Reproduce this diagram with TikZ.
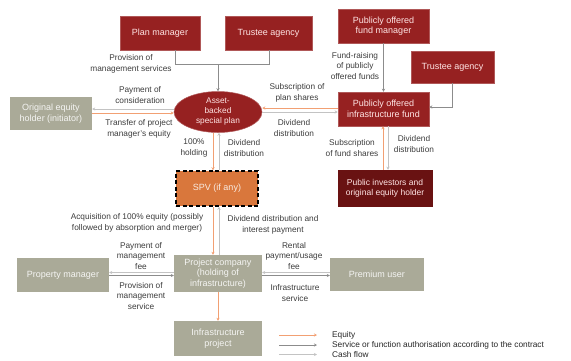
\documentclass[tikz,border=0pt]{standalone}
\usepackage{fontspec}
\setmainfont{Liberation Sans}
\usetikzlibrary{shapes.geometric,arrows.meta}
\definecolor{dred}{RGB}{150,33,33}
\definecolor{ddred}{RGB}{105,18,18}
\definecolor{gbox}{RGB}{170,170,152}
\definecolor{spvor}{RGB}{217,119,60}
\definecolor{eqc}{RGB}{242,160,115}
\definecolor{svcc}{RGB}{140,140,140}
\definecolor{cashc}{RGB}{195,195,195}
\definecolor{lbltext}{RGB}{60,60,60}
\begin{document}
\begin{tikzpicture}[x=1pt,y=-1pt,
 box/.style={rectangle, inner sep=1pt, align=center, font=\fontsize{9}{10.5}\selectfont},
 redbox/.style={box, fill=dred, draw=dred!75!white, line width=0.5pt, text=white!90!red},
 graybox/.style={box, fill=gbox, text=white!88!gbox},
 lbl/.style={align=center, font=\fontsize{8.3}{10.5}\selectfont, text=lbltext, inner sep=0pt},
 tip/.style={-{Stealth[length=3pt,width=3pt]}},
 eq/.style={tip, draw=eqc, line width=0.7pt},
 svc/.style={draw=svcc, line width=0.6pt},
 cash/.style={tip, draw=cashc, line width=0.7pt},
]
\useasboundingbox (0,0) rectangle (571,360);

% boxes
\node[redbox, minimum width=80pt, minimum height=34pt] (pm) at (160,33) {Plan manager};
\node[redbox, minimum width=87pt, minimum height=34pt] (ta1) at (268.5,33) {Trustee agency};
\node[redbox, minimum width=91pt, minimum height=34pt] (pfm) at (383.5,26) {Publicly offered\\fund manager};
\node[redbox, minimum width=83pt, minimum height=32pt] (ta2) at (452.5,67) {Trustee agency};
\node[redbox, minimum width=91pt, minimum height=34pt] (pif) at (383.5,109) {Publicly offered\\infrastructure fund};
\node[redbox, fill=ddred, draw=ddred, minimum width=94pt, minimum height=36pt, font=\fontsize{8.5}{10}\selectfont] (inv) at (385,188) {Public investors and\\original equity holder};
\node[graybox, minimum width=82pt, minimum height=33pt] (oeh) at (51,113.5) {Original equity\\holder (initiator)};
\node[ellipse, fill=dred, draw=dred!75!white, line width=0.5pt, minimum width=88pt, minimum height=41pt, inner sep=0pt, align=center, font=\fontsize{8.3}{10}\selectfont, text=white!90!red] (abs) at (218,112) {Asset-\\backed\\special plan};
\node[box, fill=spvor, draw=black, line width=1.5pt, dash pattern=on 4pt off 2.5pt, minimum width=82pt, minimum height=35pt, text=white!85!spvor] (spv) at (217,188.5) {SPV (if any)};
\node[graybox, minimum width=88pt, minimum height=37pt] (pc) at (218,273.5) {Project company\\(holding of\\infrastructure)};
\node[graybox, minimum width=94pt, minimum height=33pt] (pu) at (377,274.5) {Premium user};
\node[graybox, minimum width=92pt, minimum height=34pt] (prm) at (63,275) {Property manager};
\node[graybox, minimum width=88pt, minimum height=35pt] (ip) at (218,338.5) {Infrastructure\\project};

% connectors
\coordinate (j) at (218,64);
\draw[svc] ([xshift=15pt]pm.south) |- (j);
\draw[svc] ([xshift=0.5pt]ta1.south) |- (j);
\draw[svc,tip] (j) -- (abs.north);

\draw[cash] ([yshift=3pt]abs.west) -- ([yshift=3pt]abs.west -| oeh.east);
\draw[eq] ([yshift=-1pt]abs.west -| oeh.east) -- ([yshift=-1pt]abs.west);

\draw[eq] ([yshift=1pt]pif.west) -- ([yshift=1pt]pif.west -| abs.east);
\draw[cash] ([yshift=-3pt]pif.west -| abs.east) -- ([yshift=-3pt]pif.west);

\draw[svc,tip] (pfm.south) -- (pif.north);
\draw[svc,tip] (ta2.south) |- ([yshift=2pt]pif.east);

\draw[eq] ([xshift=-2pt]inv.north) -- ([xshift=-2pt]inv.north |- pif.south);
\draw[cash] ([xshift=3pt]inv.north |- pif.south) -- ([xshift=3pt]inv.north);

\draw[eq] ([xshift=-5pt]abs.south) -- ([xshift=-5pt]abs.south |- spv.north);
\draw[cash] ([xshift=1pt]abs.south |- spv.north) -- ([xshift=1pt]abs.south);

\draw[eq] ([xshift=-5pt]pc.north |- spv.south) -- ([xshift=-5pt]pc.north);
\draw[cash] ([xshift=1pt]pc.north) -- ([xshift=1pt]pc.north |- spv.south);

\draw[cash] ([yshift=1pt]pc.west) -- ([yshift=1pt]pc.west -| prm.east);
\draw[svc,tip] ([yshift=-2pt]pc.west -| prm.east) -- ([yshift=-2pt]pc.west);

\draw[cash] ([yshift=1pt]pc.east -| pu.west) -- ([yshift=1pt]pc.east);
\draw[svc,tip] ([yshift=-2pt]pc.east) -- ([yshift=-2pt]pc.east -| pu.west);

\draw[eq] (pc.south) -- (ip.north);

% labels
\node[lbl] (l1) at (131,64) {Provision of\\management services};
\node[lbl] (l2) at (140,95) {Payment of\\consideration};
\node[lbl] (l3) at (139,129) {Transfer of project\\manager's equity};
\node[lbl] (l4) at (194,148) {100\%\\holding};
\node[lbl] (l5) at (244,148) {Dividend\\distribution};
\node[lbl] (l6) at (297,93) {Subscription of\\plan shares};
\node[lbl] (l7) at (294,128) {Dividend\\distribution};
\node[lbl] (l8) at (355,66) {Fund-raising\\of publicly\\offered funds};
\node[lbl] (l9) at (352,148) {Subscription\\of fund shares};
\node[lbl] (l10) at (414,144) {Dividend\\distribution};
\node[lbl] (l11) at (137,223) {Acquisition of 100\% equity (possibly\\followed by absorption and merger)};
\node[lbl] (l12) at (273,225) {Dividend distribution and\\interest payment};
\node[lbl] (l13) at (141,256) {Payment of\\management\\fee};
\node[lbl] (l14) at (141,296) {Provision of\\management\\service};
\node[lbl] (l15) at (294,256) {Rental\\payment/usage\\fee};
\node[lbl] (l16) at (295,293) {Infrastructure\\service};

% legend
\coordinate (ga) at (279,335); \coordinate (gb) at (317,335);
\coordinate (sa) at (279,345); \coordinate (sb) at (317,345);
\coordinate (ca) at (279,354.5); \coordinate (cb) at (317,354.5);
\draw[eq] (ga) -- (gb);
\draw[svc,tip] (sa) -- (sb);
\draw[cash] (ca) -- (cb);
\node[lbl, anchor=west, text=black!85] (lg1) at (332,335.5) {Equity};
\node[lbl, anchor=west, text=black!85] (lg2) at (332,345.5) {Service or function authorisation according to the contract};
\node[lbl, anchor=west, text=black!85] (lg3) at (332,354.5) {Cash flow};
\end{tikzpicture}
\end{document}
